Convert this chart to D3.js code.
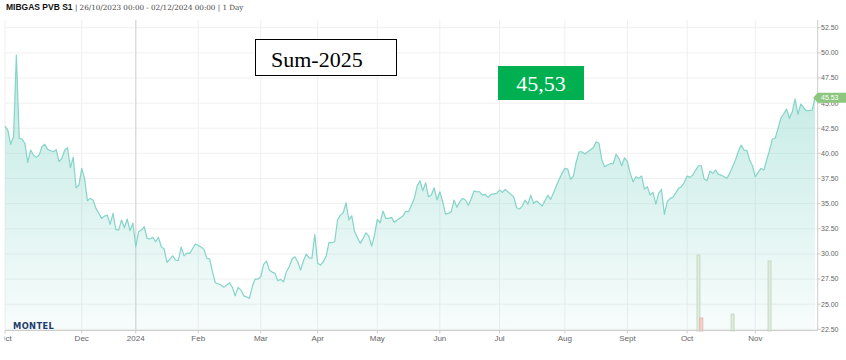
<!DOCTYPE html>
<html><head><meta charset="utf-8">
<script src="https://cdn.jsdelivr.net/npm/d3@7"></script>
<style>body{margin:0;background:#fff;} svg{display:block;}</style>
</head><body><svg id="c" width="846" height="360"></svg>
<script>
// trading-day index (0 = 26/10/2023) and settlement price EUR/MWh
const days = [0,1,2,3,4,5,6,7,8,9,10,11,12,13,14,15,16,17,18,19,20,21,22,23,24,25,26,27,28,29,30,31,32,34,35,36,37,38,39,40,41,42,43,44,45,46,47,48,49,50,51,52,53,54,55,56,57,58,59,60,61,62,63,64,65,67,69,70,71,72,73,74,76,77,79,80,81,82,83,84,85,86,87,88,89,90,91,92,93,94,95,96,97,98,99,100,101,102,103,104,105,106,107,108,109,110,111,112,113,114,115,116,117,118,119,120,121,122,123,125,126,127,128,129,130,131,132,133,134,135,136,137,138,140,141,142,144,145,146,147,148,149,150,151,152,153,154,155,156,157,158,159,160,161,162,163,164,165,166,167,168,169,170,171,173,174,175,176,178,179,180,181,182,183,184,185,186,187,188,189,191,192,193,194,195,196,197,198,199,200,201,202,203,204,205,207,208,209,210,211,212,213,214,215,216,217,218,219,220,221,222,223,224,225,226,227,228,229,230,231,232,233,234,235,237,238,239,240,241,242,243,244,245,246,247,248,249,250,251,252,254,255,256,257,258,259,260,261,262,263,264,265,266,267,268,269,270,271,272,273,275,276,277,278,279,280,281,282,284,285];
const prices = [42.72,42.32,40.90,41.65,49.78,41.50,41.43,41.00,39.11,40.33,39.83,39.60,39.83,40.66,40.90,40.40,40.26,40.16,40.36,39.17,39.50,40.33,40.56,38.57,39.63,36.58,36.85,38.51,37.51,35.29,35.52,35.36,34.53,33.53,33.76,33.86,32.94,34.03,32.44,32.37,33.37,32.60,33.47,32.30,33.07,30.71,32.20,32.37,32.70,31.55,31.48,31.65,31.21,31.65,30.71,30.48,29.16,29.49,29.81,29.39,29.36,30.68,29.81,30.08,30.05,30.98,30.68,30.45,29.55,29.52,28.22,27.13,26.90,26.67,27.13,26.67,25.83,26.67,26.40,25.83,25.73,25.57,26.73,27.50,27.50,27.72,28.96,29.29,28.39,28.19,28.06,27.33,27.47,27.23,28.22,28.72,29.49,29.71,29.22,28.39,29.29,29.98,29.61,29.58,31.94,29.06,28.89,29.22,29.78,31.15,31.11,31.21,33.37,33.86,34.09,35.09,33.37,33.79,32.20,31.05,31.54,32.10,31.77,30.78,31.87,33.43,33.10,34.26,33.53,33.53,33.63,33.14,33.37,33.76,34.23,34.19,35.52,36.75,37.28,36.28,37.08,35.68,35.85,36.58,35.36,36.18,35.19,33.96,34.03,34.19,35.36,34.63,35.19,35.52,35.36,34.83,35.43,36.25,36.18,36.18,35.85,35.92,35.62,35.92,36.02,36.35,36.12,36.42,35.92,35.68,34.59,34.46,34.76,35.36,34.96,35.85,35.03,35.26,35.03,34.76,35.82,35.43,36.08,36.78,37.42,38.01,38.51,38.44,37.42,37.74,39.17,40.16,40.16,39.93,40.16,40.56,41.16,41.00,39.34,38.67,38.84,38.97,38.97,39.90,39.50,38.77,39.56,39.17,38.01,37.18,37.67,37.51,37.74,36.45,36.68,35.85,36.12,34.96,36.02,36.42,33.93,35.19,35.52,35.62,36.52,36.68,37.12,37.74,37.61,37.84,38.34,38.77,38.77,37.45,37.28,38.24,38.01,38.34,37.91,37.84,37.51,38.01,38.67,39.34,40.16,40.83,40.33,40.30,39.34,38.77,37.67,38.11,38.51,38.34,39.34,40.33,41.43,41.50,42.49,43.49,44.41,43.49,44.14,45.41,43.88,44.91,44.54,44.24,44.31,45.53];

const monthTickDays = [0,27,46,68,90,110,131,153,174,197,219,240,264];
const monthTickLabels = ["Oct","Dec","2024","Feb","Mar","Apr","May","Jun","Jul","Aug","Sept","Oct","Nov"];
const priceTicks = [22.5,25,27.5,30,32.5,35,37.5,40,42.5,45,47.5,50,52.5];

const volumeDays = [244,245,256,269];
const volumes = [76,13,17,70];
const volumeDir = ["up","down","up","up"];

const titleBold = "MIBGAS PVB S1";
const titleRest = " | 26/10/2023 00:00 - 02/12/2024 00:00 | 1 Day";
const boxLabel = "Sum-2025";
const lastValueLabel = "45,53";
const lastValue = 45.53;
const logoText = "MONTEL";

const svg = d3.select("#c");
const L = 5, R = 817.7, T = 20, B = 330.5;
const x = d3.scaleLinear().domain([0,285]).range([5,815]);
const y = d3.scaleLinear().domain([22.5,52.5]).range([329.3,27.7]);
const yv = d3.scaleLinear().domain([0,100]).range([331,231]);

const defs = svg.append("defs");
const g = defs.append("linearGradient").attr("id","ag")
  .attr("gradientUnits","userSpaceOnUse").attr("x1",0).attr("x2",0).attr("y1",55).attr("y2",330);
g.append("stop").attr("offset",0).attr("stop-color","#7fd3c7").attr("stop-opacity",0.5);
g.append("stop").attr("offset",1).attr("stop-color","#7fd3c7").attr("stop-opacity",0.06);
defs.append("clipPath").attr("id","xclip").append("rect").attr("x",4.5).attr("y",330).attr("width",842).attr("height",30);

// horizontal grid
svg.append("g").selectAll("line").data(priceTicks).join("line")
  .attr("x1",L).attr("x2",R).attr("y1",d=>y(d)).attr("y2",d=>y(d))
  .attr("stroke","#f0f0f0").attr("stroke-width",1);
// vertical grid
svg.append("g").selectAll("line").data(monthTickDays).join("line")
  .attr("x1",d=>x(d)).attr("x2",d=>x(d)).attr("y1",T).attr("y2",B)
  .attr("stroke",(d,i)=>monthTickLabels[i]==="2024"?"#dcdcdc":"#efefef")
  .attr("stroke-width",(d,i)=>monthTickLabels[i]==="2024"?1.5:1);

const pts = days.map((d,i)=>[d,prices[i]]);
svg.append("path").datum(pts)
  .attr("d", d3.area().x(d=>x(d[0])).y0(B).y1(d=>y(d[1])))
  .attr("fill","url(#ag)");
svg.append("path").datum(pts)
  .attr("d", d3.line().x(d=>x(d[0])).y(d=>y(d[1])))
  .attr("fill","none").attr("stroke","#84d4c9").attr("stroke-width",1.2).attr("stroke-linejoin","round");

// volume bars
svg.append("g").selectAll("rect").data(volumeDays).join("rect")
  .attr("x",d=>x(d)-1.5).attr("width",3)
  .attr("y",(d,i)=>yv(volumes[i])).attr("height",(d,i)=>yv(0)-yv(volumes[i]))
  .attr("fill",(d,i)=>volumeDir[i]==="up"?"#e1ebdf":"#f4d4cd")
  .attr("stroke",(d,i)=>volumeDir[i]==="up"?"#bcd5b9":"#e5aca2").attr("stroke-width",0.8);

// x axis
svg.append("line").attr("x1",L).attr("x2",R).attr("y1",B).attr("y2",B).attr("stroke","#cccccc");
svg.append("g").selectAll("line").data(monthTickDays).join("line")
  .attr("x1",d=>x(d)).attr("x2",d=>x(d)).attr("y1",B).attr("y2",B+3).attr("stroke","#cccccc");
svg.append("g").attr("clip-path","url(#xclip)").selectAll("text").data(monthTickDays).join("text")
  .attr("x",(d,i)=>i===0?x(d)+0.5:x(d)).attr("y",341).attr("text-anchor","middle")
  .attr("font-family","Liberation Sans, Arial, sans-serif").attr("font-size",8).attr("fill","#666")
  .text((d,i)=>monthTickLabels[i]);

// y axis (right)
svg.append("line").attr("x1",R).attr("x2",R).attr("y1",T).attr("y2",B).attr("stroke","#cccccc");
svg.append("g").selectAll("line").data(priceTicks).join("line")
  .attr("x1",R).attr("x2",R+3).attr("y1",d=>y(d)).attr("y2",d=>y(d)).attr("stroke","#cccccc");
svg.append("g").selectAll("text").data(priceTicks).join("text")
  .attr("x",821).attr("y",d=>y(d)).attr("dy","0.35em")
  .attr("font-family","Liberation Sans, Arial, sans-serif").attr("font-size",7).attr("fill","#666")
  .text(d=>d3.format(".2f")(d));

// last price tag
const ly = y(lastValue);
svg.append("path").attr("d",`M${R-4.5},${ly} L${R},${ly-5} L846,${ly-5} L846,${ly+5} L${R},${ly+5} Z`)
  .attr("fill","#8cc67f");
svg.append("text").attr("x",821).attr("y",ly).attr("dy","0.35em")
  .attr("font-family","Liberation Sans, Arial, sans-serif").attr("font-size",7).attr("fill","#fff")
  .text(d3.format(".2f")(lastValue));

// title
const tt = svg.append("text").attr("x",6).attr("y",10);
tt.append("tspan").attr("font-family","Liberation Sans, Arial, sans-serif").attr("font-weight","bold")
  .attr("font-size",8.5).attr("fill","#111").text(titleBold);
tt.append("tspan").attr("font-family","DejaVu Serif, Liberation Serif, serif")
  .attr("font-size",7.2).attr("fill","#444").text(titleRest);

// annotation boxes
svg.append("rect").attr("x",255.5).attr("y",39.5).attr("width",141).attr("height",36)
  .attr("fill","#fff").attr("stroke","#000").attr("stroke-width",1);
svg.append("text").attr("x",271).attr("y",67).attr("font-family","Liberation Serif, Times New Roman, serif")
  .attr("font-size",22).attr("fill","#000").text(boxLabel);
svg.append("rect").attr("x",498).attr("y",66).attr("width",86).attr("height",34).attr("fill","#00b050");
svg.append("text").attr("x",541).attr("y",91).attr("text-anchor","middle")
  .attr("font-family","Liberation Serif, Times New Roman, serif")
  .attr("font-size",22).attr("fill","#fff").text(lastValueLabel);

// logo
svg.append("text").attr("x",13).attr("y",328.5).attr("font-family","DejaVu Sans, sans-serif")
  .attr("font-weight","bold").attr("font-size",8.3).attr("letter-spacing",0.4).attr("fill","#1d3c6e").text(logoText);
</script></body></html>
